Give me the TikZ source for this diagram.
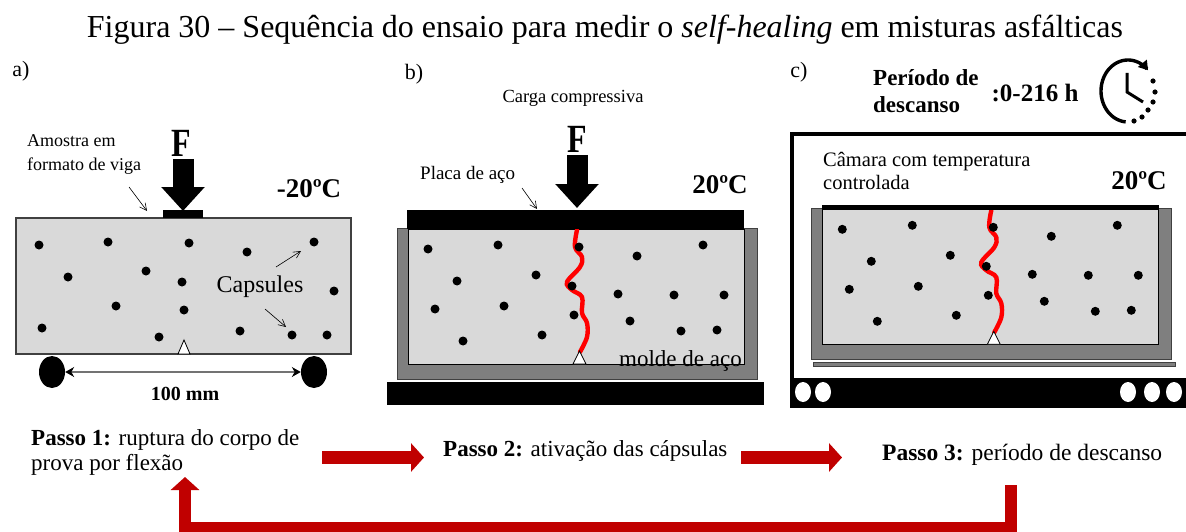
\documentclass[tikz,border=0pt]{standalone}
\usepackage{fontspec}
\setmainfont{Liberation Serif}
\usetikzlibrary{arrows.meta}
\usetikzlibrary{positioning}
\usetikzlibrary{shapes.geometric}

\definecolor{cinzaclaro}{HTML}{D9D9D9}
\definecolor{cinzamolde}{HTML}{7F7F7F}
\definecolor{vermelhoseta}{HTML}{C00000}

\tikzset{
	rotulo/.style={inner sep=0pt, font=\fontsize{#1}{#1}\selectfont},
	capsula/.style={circle, fill=black, inner sep=0pt, minimum size=9pt},
	forca/.style={line width=21pt, -{Triangle[length=24pt,width=42pt]}},
	fina/.style={line width=0.6pt, -{Straight Barb[length=7pt,width=7pt]}},
	setavermelha/.style={vermelhoseta, line width=13pt, -{Triangle[length=13pt,width=28pt]}},
	apoio/.style={ellipse, fill=black, inner sep=0pt, minimum width=26pt, minimum height=32pt},
	furo/.style={ellipse, fill=white, inner sep=0pt, minimum width=16pt, minimum height=20pt},
	entalhe/.style={draw=black, fill=white, line width=0.8pt},
}

\begin{document}
\begin{tikzpicture}[x=1pt, y=-1pt]
	\useasboundingbox (0,0) rectangle (1186,532);

	% Title and panel letters
	\node[rotulo=32] (titulo) at (605,30) {Figura 30 -- Sequência do ensaio para medir o \textit{self-healing} em misturas asfálticas};
	\node[rotulo=22] (letraa) at (21,71) {a)};
	\node[rotulo=22] (letrab) at (414,74) {b)};
	\node[rotulo=22] (letrac) at (799,72) {c)};

	% Panel a: beam on two supports
	\draw[draw=black!75, fill=cinzaclaro, line width=1.2pt] (16,218) rectangle (351,354);
	\fill[black] (163,210) rectangle (203,218);
	\foreach \x/\y [count=\n] in {39/245,108/242,189/243,247/252,314/242,68/277,146/271,182/282,334/291,116/306,184/310,42/328,159/337,240/331,292/335,327/335} {
		\node[capsula] (a\n) at (\x,\y) {};
	}
	\draw[entalhe] (178,354) -- (184,340) -- (190,354) -- cycle;
	\node[apoio] (apoioesq) at (52,372) {};
	\node[apoio] (apoiodir) at (314,372) {};
	\draw[line width=1.2pt, black!55, {Stealth[black,length=9pt,width=10pt]}-{Stealth[black,length=9pt,width=10pt]}] (apoioesq) -- (apoiodir);
	\node[rotulo=20] (vao) at (185,394) {\textbf{100 mm}};

	% Panel a: force and labels
	\node[rotulo=40, anchor=south] (fa) at (181,157) {\scalebox{0.8}[1]{\textbf{F}}};
	\coordinate (pontafa) at (183,211);
	\draw[forca] (183,159) -- (pontafa);
	\node[rotulo=18, align=left, anchor=west, font=\fontsize{18}{24}\selectfont] (amostra) at (27,155) {Amostra em\\formato de viga};
	\coordinate (vigatopo) at (147,211);
	\draw[fina] (129,187) -- (vigatopo);
	\node[rotulo=27] (tempa) at (309,189) {\textbf{-20ºC}};
	\node[rotulo=24] (capsulas) at (260,287) {Capsules};
	\coordinate (capsulacima) at (301,251);
	\coordinate (capsulabaixo) at (286,327);
	\draw[fina] (276,267) -- (capsulacima);
	\draw[fina] (265,309) -- (capsulabaixo);

	% Panels b and c: cracked specimen in the steel mould
	\foreach \p/\dx/\dy in {b/0/0,c/414.3/-19.7} {
		\begin{scope}[shift={(\dx,\dy)}]
			\draw[draw=black!75, fill=cinzamolde, line width=1pt] (397,228) rectangle (757,379);
			\draw[draw=black, fill=cinzaclaro, line width=1pt] (408,229) rectangle (744,364);
			\draw[red, line width=4.4pt, line cap=round] plot[smooth, tension=0.6] coordinates {(577,230) (575,247) (582,257) (580,267) (567,282) (572,290) (582,297) (582,313) (587,323) (587,337) (580,352)};
			\foreach \x/\y [count=\n] in {428/249,498/245,579/247,637/256,703/245,457/281,536/275,572/286,724/295,674/295,618/294,435/309,504/306,574/315,630/321,463/341,542/335,681/331,717/330} {
				\node[capsula] (\p\n) at (\x,\y) {};
			}
			\draw[entalhe] (573,364) -- (579.5,351) -- (586,364) -- cycle;
		\end{scope}
	}

	% Panel b: plates, force and labels
	\fill[black] (407,210) rectangle (744,229);
	\fill[black] (387,382) rectangle (764,405);
	\node[rotulo=40, anchor=south] (fb) at (577,153) {\scalebox{0.8}[1]{\textbf{F}}};
	\coordinate (pontafb) at (577,208);
	\draw[forca] (fb.south) ++(0,2) -- (pontafb);
	\node[rotulo=18.5] (carga) at (573,98) {Carga compressiva};
	\node[rotulo=19, anchor=west] (placa) at (420,175) {Placa de aço};
	\coordinate (placatopo) at (537,209);
	\draw[fina] (522,188) -- (placatopo);
	\node[rotulo=27] (tempb) at (720,185) {\textbf{20ºC}};
	\node[rotulo=23] (molde) at (680.5,361) {molde de aço};

	% Panel c: chamber
	\fill[black] (790,132) rectangle (1186,136);
	\fill[black] (790,132) rectangle (794,408);
	\fill[black] (790,378) rectangle (1186,408);
	\foreach \x [count=\n] in {803,823,1128,1152,1174} {
		\node[furo] (furo\n) at (\x,392) {};
	}
	\fill[black] (822,205) rectangle (1159,210);
	\draw[draw=black!75, fill=cinzamolde, line width=0.8pt] (813,362) rectangle (1175,366);
	\node[rotulo=20.5, align=left, anchor=west, font=\fontsize{20.5}{23}\selectfont] (camara) at (823,171) {Câmara com temperatura\\controlada};
	\node[rotulo=27] (tempc) at (1139,181) {\textbf{20ºC}};

	% Panel c: rest period and clock
	\node[rotulo=23, align=left, anchor=west, font=\bfseries\fontsize{23}{27}\selectfont] (periodo) at (873,91.5) {Período de\\descanso};
	\node[rotulo=25] (duracao) at (1035,93) {\textbf{:0-216 h}};
	\draw[line width=3.4pt, -{Triangle[length=9pt,width=11pt]}] plot[domain=265:42, samples=50, smooth] ({1128+27*cos(\x)},{91-31*sin(\x)});
	\coordinate (relogio) at (1127,92);
	\draw[line width=3pt] (1127,73) -- (relogio) -- (1143,102);
	\foreach \x/\y in {1153/81,1155/92,1153/102,1148/110,1142/117,1134/121} {
		\fill[black] (\x,\y) circle (2.6pt);
	}

	% Steps
	\node[rotulo=23, align=left, anchor=west, font=\fontsize{23}{25}\selectfont] (passoa) at (31,452) {\textbf{Passo 1:} ruptura do corpo de\\prova por flexão};
	\node[rotulo=23, anchor=west] (passob) at (443,451) {\textbf{Passo 2:} ativação das cápsulas};
	\node[rotulo=23.5, anchor=west] (passoc) at (882,455) {\textbf{Passo 3:} período de descanso};

	% Red arrows between the steps
	\coordinate (setaa) at (322,457.5);
	\coordinate (setab) at (424,457.5);
	\coordinate (setac) at (741,457.5);
	\coordinate (setad) at (842,457.5);
	\draw[setavermelha] (setaa) -- (setab);
	\draw[setavermelha] (setac) -- (setad);
	\coordinate (voltaa) at (1011,485);
	\coordinate (voltab) at (185,528);
	\coordinate (voltac) at (185,477);
	\draw[setavermelha, line width=12pt, line join=miter] (voltaa) |- (voltab) -- (voltac);
\end{tikzpicture}
\end{document}
